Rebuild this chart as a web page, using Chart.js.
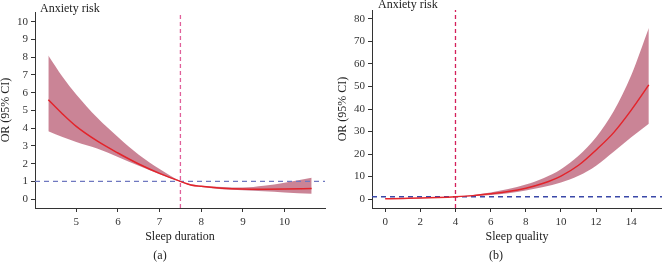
<!DOCTYPE html>
<html>
<head>
<meta charset="utf-8">
<script src="https://cdn.jsdelivr.net/npm/chart.js@4.4.1/dist/chart.umd.min.js"></script>
<style>
  body { margin: 0; background: #fff; }
  .panel { position: absolute; top: 0; width: 331px; height: 263px; }
  #panelA { left: 0; }
  #panelB { left: 331px; }
</style>
</head>
<body>
<div class="panel" id="panelA"><canvas id="chartA" width="331" height="263"></canvas></div>
<div class="panel" id="panelB"><canvas id="chartB" width="331" height="263"></canvas></div>
<script>
// (a) sleep duration
var durX     = [4.33, 4.67, 5, 5.5, 6, 6.5, 7, 7.5, 7.75, 8, 8.5, 9, 9.5, 10, 10.65];
var durEst   = [5.6, 4.8, 4.1, 3.28, 2.6, 1.98, 1.45, 1.0, 0.8, 0.72, 0.62, 0.57, 0.56, 0.57, 0.6];
var durUpper = [8.1, 6.9, 5.9, 4.6, 3.5, 2.5, 1.7, 1.02, 0.84, 0.76, 0.68, 0.65, 0.75, 0.92, 1.2];
var durLower = [3.83, 3.5, 3.22, 2.85, 2.38, 1.88, 1.4, 0.98, 0.77, 0.68, 0.56, 0.5, 0.45, 0.38, 0.3];
var durXTicks = [5, 6, 7, 8, 9, 10];
var durYTicks = [0, 1, 2, 3, 4, 5, 6, 7, 8, 9, 10];

// (b) sleep quality
var qualX     = [0, 1, 2, 3, 4, 5, 6, 7, 8, 9, 10, 11, 12, 13, 14, 15];
var qualEst   = [0.1, 0.25, 0.4, 0.65, 1.0, 1.5, 2.3, 3.3, 4.8, 7.0, 10.2, 15, 21.8, 29.5, 39.5, 50.7];
var qualUpper = [0.2, 0.3, 0.5, 0.7, 1.05, 1.8, 2.9, 4.4, 6.4, 9.2, 13.2, 19.2, 27.5, 39, 55, 76];
var qualLower = [0.05, 0.2, 0.35, 0.6, 0.95, 1.3, 1.8, 2.6, 3.8, 5.3, 7.3, 10.3, 14.8, 21, 27.5, 33.5];
var qualXTicks = [0, 2, 4, 6, 8, 10, 12, 14];
var qualYTicks = [0, 10, 20, 30, 40, 50, 60, 70, 80];

var serif = "'Liberation Serif', 'DejaVu Serif', serif";

function pts(xs, ys) {
    return xs.map(function (x, i) { return { x: x, y: ys[i] }; });
}

var labelsPlugin = {
    id: 'panelLabels',
    afterDraw: function (chart, args, opts) {
        var ctx = chart.ctx;
        ctx.save();
        ctx.fillStyle = '#222';
        ctx.font = '12px ' + serif;
        ctx.textBaseline = 'middle';
        ctx.textAlign = 'left';
        ctx.fillText(opts.title, chart.chartArea.left + opts.titleDx, opts.titleY);
        ctx.textAlign = 'center';
        ctx.fillText(opts.caption, opts.captionX, 256);
        ctx.restore();
    }
};

function makeChart(id, p) {
    // lower "order" is drawn on top
    var datasets = [
        {
            data: pts(p.x, p.est),
            order: 0,
            borderColor: '#e3242b',
            borderWidth: 1.5,
            pointRadius: 0,
            fill: false,
            cubicInterpolationMode: 'monotone'
        },
        {
            data: [{ x: p.ref, y: p.yMin }, { x: p.ref, y: p.yMax }],
            order: 1,
            borderColor: p.vColor,
            borderWidth: 1.3,
            borderDash: [4, 3],
            pointRadius: 0,
            fill: false
        },
        {
            data: [{ x: p.xMin, y: 1 }, { x: p.xMax, y: 1 }],
            order: 2,
            borderColor: p.hColor,
            borderWidth: 1.3,
            borderDash: [5, 4],
            pointRadius: 0,
            fill: false
        },
        {
            data: pts(p.x, p.upper),
            order: 3,
            borderWidth: 0,
            pointRadius: 0,
            backgroundColor: 'rgba(180, 80, 105, 0.7)',
            fill: '+1',
            cubicInterpolationMode: 'monotone'
        },
        {
            data: pts(p.x, p.lower),
            order: 4,
            borderWidth: 0,
            pointRadius: 0,
            fill: false,
            cubicInterpolationMode: 'monotone'
        }
    ];

    return new Chart(document.getElementById(id).getContext('2d'), {
        type: 'line',
        data: { datasets: datasets },
        plugins: [labelsPlugin],
        options: {
            responsive: false,
            animation: false,
            layout: { padding: { top: p.top, right: p.right, bottom: 18, left: 0 } },
            plugins: {
                legend: { display: false },
                tooltip: { enabled: false },
                panelLabels: { title: 'Anxiety risk', titleDx: p.titleDx, titleY: p.titleY, caption: p.caption, captionX: p.captionX }
            },
            scales: {
                x: {
                    type: 'linear',
                    min: p.xMin,
                    max: p.xMax,
                    afterBuildTicks: function (scale) {
                        scale.ticks = p.xTicks.map(function (v) { return { value: v }; });
                    },
                    afterFit: function (scale) { scale.height = 37; },
                    grid: { drawOnChartArea: false, drawTicks: true, tickLength: 4, color: '#333' },
                    border: { display: true, color: '#333', width: 1 },
                    ticks: { color: '#333', font: { family: serif, size: 11 }, padding: 4, maxRotation: 0 },
                    title: { display: true, text: p.xTitle, color: '#222', font: { family: serif, size: 12 }, padding: { top: 0, bottom: 1 } }
                },
                y: {
                    type: 'linear',
                    min: p.yMin,
                    max: p.yMax,
                    afterBuildTicks: function (scale) {
                        scale.ticks = p.yTicks.map(function (v) { return { value: v }; });
                    },
                    afterFit: function (scale) { scale.width = p.yWidth; },
                    grid: { drawOnChartArea: false, drawTicks: true, tickLength: 4, color: '#333' },
                    border: { display: true, color: '#333', width: 1 },
                    ticks: { color: '#333', font: { family: serif, size: 11 }, padding: 3 },
                    title: { display: true, text: 'OR (95% CI)', color: '#222', font: { family: serif, size: 12, lineHeight: 1 }, padding: { top: p.yTitlePad, bottom: 0 } }
                }
            }
        }
    });
}

makeChart('chartA', {
    x: durX, est: durEst, upper: durUpper, lower: durLower,
    xTicks: durXTicks, yTicks: durYTicks,
    xMin: 4.01, xMax: 10.97, yMin: -0.5, yMax: 10.55,
    ref: 7.5, hColor: '#6f78c0', vColor: '#e0609a',
    top: 12, right: 6, yWidth: 35, yTitlePad: 0,
    xTitle: 'Sleep duration', caption: '(a)', captionX: 160, titleDx: 5, titleY: 9
});

makeChart('chartB', {
    x: qualX, est: qualEst, upper: qualUpper, lower: qualLower,
    xTicks: qualXTicks, yTicks: qualYTicks,
    xMin: -0.75, xMax: 15.75, yMin: -4, yMax: 84,
    ref: 4, hColor: '#3a48a8', vColor: '#d4205a',
    top: 10, right: 0, yWidth: 41, yTitlePad: 6,
    xTitle: 'Sleep quality', caption: '(b)', captionX: 165, titleDx: 6, titleY: 5
});
</script>
</body>
</html>
